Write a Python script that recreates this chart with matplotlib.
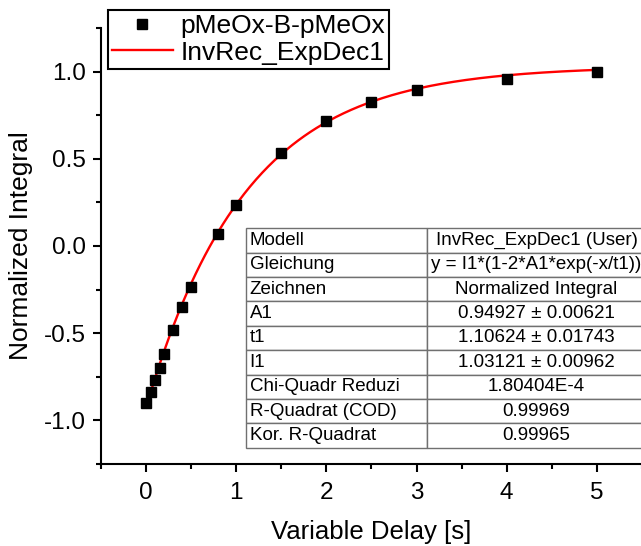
import numpy as np
import matplotlib
matplotlib.use("Agg")
import matplotlib.pyplot as plt
from matplotlib.table import Table

plt.rcParams['font.family'] = ['Liberation Sans', 'DejaVu Sans']
plt.rcParams['axes.unicode_minus'] = False

# Messpunkte
delay = [0, 0.05, 0.1, 0.15, 0.2, 0.3, 0.4, 0.5, 0.8, 1.0, 1.5, 2.0, 2.5, 3.0, 4.0, 5.0]
integral = [-0.90, -0.84, -0.77, -0.70, -0.62, -0.48, -0.35, -0.235, 0.07, 0.235,
            0.531, 0.716, 0.826, 0.892, 0.960, 0.995]

# Fitparameter (aus der Tabelle)
A1 = 0.94927
t1 = 1.10624
I1 = 1.03121

row_labels = ["Modell", "Gleichung", "Zeichnen", "A1", "t1", "I1",
              "Chi-Quadr Reduzi", "R-Quadrat (COD)", "Kor. R-Quadrat"]
row_values = ["InvRec_ExpDec1 (User)", "y = I1*(1-2*A1*exp(-x/t1))", "Normalized Integral",
              "0.94927 \u00b1 0.00621", "1.10624 \u00b1 0.01743", "1.03121 \u00b1 0.00962",
              "1.80404E-4", "0.99969", "0.99965"]

fig = plt.figure(figsize=(6.41, 5.46), dpi=100)
ax = fig.add_axes([101/641, 82/546, 541/641, 436/546])

xfit = np.linspace(0, 5, 300)
yfit = I1 * (1 - 2 * A1 * np.exp(-xfit / t1))

ax.plot(delay, integral, "s", color="black", markersize=7.5, label="pMeOx-B-pMeOx", zorder=3)
ax.plot(xfit, yfit, color="red", linewidth=1.7, label="InvRec_ExpDec1", zorder=2)

ax.set_xlim(-0.5, 5.5)
ax.set_ylim(-1.25, 1.25)
ax.set_xticks([0, 1, 2, 3, 4, 5])
ax.set_xticks(np.arange(-0.5, 5.6, 0.5), minor=True)
ax.set_yticks([-1.0, -0.5, 0.0, 0.5, 1.0])
ax.set_yticks(np.arange(-1.25, 1.26, 0.25), minor=True)
ax.spines["top"].set_visible(False)
ax.spines["right"].set_visible(False)
for s in ["left", "bottom"]:
    ax.spines[s].set_linewidth(1.5)
ax.tick_params(which="major", direction="out", length=6, width=1.5, labelsize=17.5)
ax.tick_params(axis="x", which="major", pad=7)
ax.tick_params(axis="y", which="major", pad=5)
ax.tick_params(which="minor", direction="out", length=3.5, width=1.5)
ax.set_xlabel("Variable Delay [s]", fontsize=18.5, labelpad=11.5)
ax.set_ylabel("Normalized Integral", fontsize=19, labelpad=8)

leg = ax.legend(loc="upper left", bbox_to_anchor=(0.013, 1.041), borderaxespad=0,
                fontsize=19, frameon=True, fancybox=False, framealpha=1,
                edgecolor="black", handlelength=2.3, handletextpad=0.3,
                borderpad=0.15, labelspacing=0.1)
leg.get_frame().set_linewidth(1.5)

# Ergebnistabelle
tab = Table(ax, bbox=[0.268, 0.037, 0.739, 0.504])
for i, (lab, val) in enumerate(zip(row_labels, row_values)):
    c1 = tab.add_cell(i, 0, 0.335, 1, text=lab, loc="left", edgecolor="#707070")
    c2 = tab.add_cell(i, 1, 0.404, 1, text=val, loc="center", edgecolor="#707070")
    for c in (c1, c2):
        c.set_linewidth(1.0)
        c.PAD = 0.02
tab.auto_set_font_size(False)
tab.set_fontsize(13.5)
tab.set_clip_on(False)
ax.add_table(tab)

fig.savefig("out.png", dpi=100)
